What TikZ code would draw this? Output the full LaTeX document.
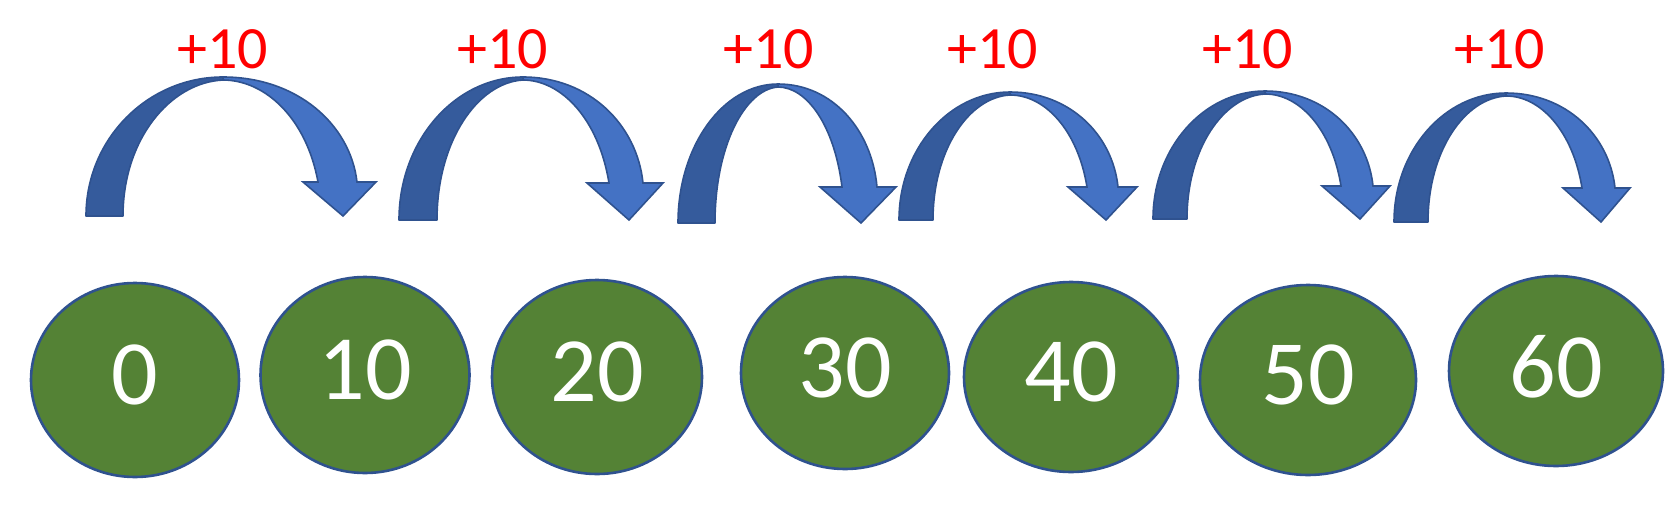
\documentclass[tikz,border=0pt]{standalone}
\usepackage{fontspec}
\setmainfont{Carlito}
\usetikzlibrary{shapes.geometric}
\definecolor{arrlight}{HTML}{4472C4}
\definecolor{arrdark}{HTML}{355B9C}
\definecolor{arrline}{HTML}{2F528F}
\definecolor{ellgreen}{HTML}{548235}
\definecolor{labred}{HTML}{FF0000}
\tikzset{
  darkpart/.style={fill=arrdark, draw=arrline, line width=1.6pt, line join=round},
  lightpart/.style={fill=arrlight, draw=arrline, line width=1.6pt, line join=miter},
  numell/.style={ellipse, fill=ellgreen, draw=arrline, line width=2.6pt, inner sep=0pt, outer sep=0pt,
    text=white, font=\fontsize{92pt}{100pt}\selectfont, text depth=10pt},
  steplabel/.style={anchor=base, text=labred, inner sep=0pt, font=\fontsize{60pt}{64pt}\selectfont}
}
\begin{document}
\begin{tikzpicture}[x=1pt,y=-1pt]
\useasboundingbox (0,0) rectangle (1673,509);
% curved arrows
\foreach \lx/\li/\b/\tx/\ty/\si/\so/\hb/\hl/\hr/\hx in {
  86/123/216/223/77/318/357/182/303/376/343,
  399/437/220/523/77/609/643/183/587/663/629,
  678/715/223/778/84/842/877/187/820/896/861,
  899/933/220/1010/92/1087/1118/187/1068/1137/1106,
  1153/1187/219/1265/91/1341/1373/186/1322/1390/1360,
  1394/1428/222/1506/93/1582/1615/188/1563/1630/1601}{
  \draw[darkpart] (\lx,\b) -- (\li,\b)
     .. controls (\li,{\b-0.55*(\b-\ty)}) and ({\li+0.47*(\tx-\li)},{\ty+0.04*(\b-\ty)}) .. (\tx,\ty+3)
     -- (\tx,\ty)
     .. controls ({\tx-0.552*(\tx-\lx)},\ty) and (\lx,{\b-0.552*(\b-\ty)}) .. cycle;
  \draw[lightpart] (\tx,\ty)
     .. controls ({\tx+0.552*(\so-\tx)},\ty) and ({\so-0.05*(\so-\tx)},{\ty+0.45*(\hb-\ty)}) .. (\so,\hb)
     -- (\hr,\hb) -- (\hx,\b) -- (\hl,\hb) -- (\si,\hb)
     .. controls ({\si-0.12*(\si-\tx)},{\ty+0.4*(\hb-\ty)}) and ({\tx+0.45*(\si-\tx)},{\ty+0.03*(\hb-\ty)}) .. (\tx,\ty+3)
     -- cycle;
}
% labels
\foreach \x [count=\i] in {223,503,769,993,1248,1500}{
  \node[steplabel] (l\i) at (\x,68) {+10};
}
% number ellipses
\foreach \cx/\cy/\rx/\ry/\t [count=\i] in {
  135/380/104/97/0,
  365/375/104.5/98/10,
  597/377/105/97/20,
  845/373/104/96/30,
  1071/377/107/95/40,
  1308/380/108/95/50,
  1556/371/107/95/60}{
  \node[numell, minimum width=2*\rx pt, minimum height=2*\ry pt] (e\i) at (\cx,\cy) {\t};
}
\end{tikzpicture}
\end{document}
